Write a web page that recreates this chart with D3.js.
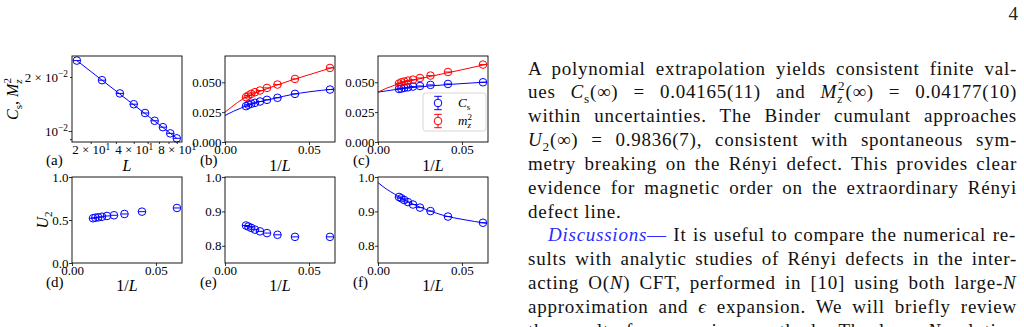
<!DOCTYPE html>
<html>
<head>
<meta charset="utf-8">
<script src="https://cdn.jsdelivr.net/npm/d3@7"></script>
<style>
  body { margin: 0; background: #fff; }
  svg { display: block; }
</style>
</head>
<body>
<div id="canvas"></div>
<script>
// system sizes, the 1/L axis is derived from them
const sizes = [16, 24, 32, 40, 48, 56, 64, 72, 80];
const invL = sizes.map((d) => 1 / d);

// (a) C_s against L on log-log axes
const csA = [0.0247, 0.0192, 0.0162, 0.0141, 0.0126, 0.0114, 0.0105, 0.0097, 0.0091];
const fitAx = [16, 80];
const fitAy = [0.0247, 0.0091];

// (b) and (c): C_s and m_z^2 against 1/L
const csB = [0.0439, 0.0403, 0.0370, 0.0353, 0.0339, 0.0328, 0.0320, 0.0312, 0.0300];
const m2B = [0.0620, 0.0528, 0.0481, 0.0453, 0.0431, 0.0417, 0.0403, 0.0389, 0.0375];
const csC = [0.0500, 0.0486, 0.0478, 0.0469, 0.0464, 0.0458, 0.0453, 0.0447, 0.0444];
const m2C = [0.0648, 0.0586, 0.0556, 0.0536, 0.0522, 0.0514, 0.0506, 0.0500, 0.0489];

// (d)-(f): Binder cumulant U_2
const u2D = [0.640, 0.597, 0.570, 0.555, 0.547, 0.538, 0.531, 0.527, 0.520];
const u2E = [0.826, 0.826, 0.832, 0.837, 0.842, 0.847, 0.852, 0.856, 0.859];
const u2F = [0.867, 0.885, 0.901, 0.911, 0.920, 0.927, 0.933, 0.938, 0.942];

// extrapolation curves
const fitX = [0, 0.005, 0.01, 0.015, 0.02, 0.03, 0.04, 0.05, 0.065];
const fitBcs = [0.0222, 0.0257, 0.0287, 0.0313, 0.0335, 0.0367, 0.0398, 0.0420, 0.0443];
const fitBm2 = [0.0250, 0.0305, 0.0355, 0.0392, 0.0420, 0.0472, 0.0520, 0.0563, 0.0628];
const fitCcs = [0.0417, 0.0428, 0.0438, 0.0447, 0.0455, 0.0468, 0.0479, 0.0489, 0.0502];
const fitCm2 = [0.0418, 0.0450, 0.0476, 0.0497, 0.0514, 0.0546, 0.0575, 0.0605, 0.0652];
const fitFu2 = [0.9836, 0.965, 0.950, 0.935, 0.923, 0.903, 0.887, 0.877, 0.865];

// ticks
const xTicksA = [20, 30, 40, 50, 60, 70, 80];
const xLabelsA = ["2 × 10^1", "", "4 × 10^1", "", "", "", "8 × 10^1"];
const yTicksA = [0.009, 0.01, 0.02];
const yLabelsA = ["", "10^−2", "2 × 10^−2"];
const xTicksInv = [0, 0.05];
const xLabelsInv = ["0.00", "0.05"];
const yTicksTop = [0, 0.025, 0.05];
const yLabelsTop = ["0.000", "0.025", "0.050"];
const yTicksD = [0, 0.5, 1];
const yLabelsD = ["0.0", "0.5", "1.0"];
const yTicksEF = [0.8, 0.9, 1.0];
const yLabelsEF = ["0.8", "0.9", "1.0"];

// page text, line by line
const bodyLines = [
  [["A polynomial extrapolation yields consistent finite val-"]],
  [["ues "], ["C", "i"], ["s", "sub"], ["(∞) = 0.04165(11) and "], ["M", "i"], ["z", "subi"], ["2", "supb"], ["(∞) = 0.04177(10)"]],
  [["within uncertainties. The Binder cumulant approaches"]],
  [["U", "i"], ["2", "sub"], ["(∞) = 0.9836(7), consistent with spontaneous sym-"]],
  [["metry breaking on the Rényi defect. This provides clear"]],
  [["evidence for magnetic order on the extraordinary Rényi"]],
  [["defect line."]],
  [["Discussions", "link"], ["—", "blue"], [" It is useful to compare the numerical re-"]],
  [["sults with analytic studies of Rényi defects in the inter-"]],
  [["acting O("], ["N", "i"], [") CFT, performed in [10] using both large-"], ["N", "i"]],
  [["approximation and "], ["ϵ", "i"], [" expansion. We will briefly review"]],
  [["the results from previous methods. The large-"], ["N", "i"], [" solution"]],
];
const raggedLines = [6];
const indentLines = [7];

const serif = "'Liberation Serif', 'Times New Roman', serif";
const W = 110;
const H = 86;
const blue = "#0000ff";
const red = "#ff0000";

const svg = d3.select("#canvas").append("svg").attr("width", 1024).attr("height", 327);
svg.append("rect").attr("width", 1024).attr("height", 327).attr("fill", "#fff");

// writes segments with italic / sub / sup into a text element
function rich(sel, segs, size) {
  let shift = 0;
  segs.forEach(([str, kind]) => {
    const ts = sel.append("tspan").text(str);
    let target = 0;
    if (kind === "i") ts.attr("font-style", "italic");
    if (kind === "sub" || kind === "subi") {
      target = 0.25;
      ts.attr("font-size", size * 0.7);
      if (kind === "subi") ts.attr("font-style", "italic");
    }
    if (kind === "supb") {
      target = -0.42;
      ts.attr("font-size", size * 0.7).attr("dx", -size * 0.27);
    }
    if (kind === "link") ts.attr("font-style", "italic").attr("fill", "#2a2aff");
    if (kind === "blue") ts.attr("fill", "#2a2aff");
    const dy = (target - shift) * size;
    if (dy) ts.attr("dy", dy);
    shift = target;
  });
}

function supLabels(axisG) {
  axisG.selectAll(".tick text").each(function () {
    const t = d3.select(this);
    const s = t.text();
    if (s.includes("^")) {
      const [b, e] = s.split("^");
      t.text(b);
      t.append("tspan").attr("dy", "-0.45em").attr("font-size", "0.72em").text(e);
    }
  });
}

function panel(p) {
  const g = svg.append("g").attr("transform", `translate(${p.left},${p.top})`);
  const x = p.x.range([0, W]);
  const y = p.y.range([H, 0]);
  const line = d3.line().x((d) => x(d[0])).y((d) => y(d[1]));

  p.fits.forEach((f) => {
    g.append("path")
      .datum(d3.zip(f.xs, f.ys))
      .attr("d", line.curve(d3.curveMonotoneX))
      .attr("fill", "none")
      .attr("stroke", f.color)
      .attr("stroke-width", 1);
  });

  p.series.forEach((s) => {
    const m = g.append("g")
      .selectAll("g")
      .data(d3.zip(s.xs, s.ys))
      .join("g")
      .attr("transform", (d) => `translate(${x(d[0])},${y(d[1])})`);
    m.append("circle").attr("r", 3.8).attr("fill", "none").attr("stroke", s.color).attr("stroke-width", 1);
    m.append("line").attr("x1", -3.8).attr("x2", 3.8).attr("stroke", s.color).attr("stroke-width", 1);
  });

  const xa = g.append("g")
    .attr("transform", `translate(0,${H})`)
    .call(d3.axisBottom(x).tickValues(p.xt).tickFormat((d, i) => p.xl[i]).tickSize(p.xSize || 3).tickPadding(p.xPad === undefined ? 0 : p.xPad).tickSizeOuter(0));
  const ya = g.append("g")
    .call(d3.axisLeft(y).tickValues(p.yt).tickFormat((d, i) => p.yl[i]).tickSize(p.ySize || 3).tickPadding(p.yPad === undefined ? 0.5 : p.yPad).tickSizeOuter(0));
  [xa, ya].forEach((a) => {
    a.attr("font-family", serif).attr("font-size", 13);
    a.select(".domain").remove();
    a.selectAll(".tick line").attr("stroke-width", 0.8);
    a.selectAll(".tick text").attr("fill", "#000");
    supLabels(a);
  });
  if (p.yMajor !== undefined) {
    ya.selectAll(".tick").filter((d) => d === p.yMajor).select("line").attr("x2", -3.5);
  }

  g.append("rect").attr("width", W).attr("height", H)
    .attr("fill", "none").attr("stroke", "#000").attr("stroke-width", 0.9);

  // x label and panel tag
  const xl = g.append("text").attr("x", W / 2).attr("y", p.xlabY)
    .attr("text-anchor", "middle").attr("font-family", serif).attr("font-size", 16);
  rich(xl, p.xlabel, 16);
  g.append("text").attr("x", p.tagX - p.left).attr("y", p.tagY)
    .attr("font-family", serif).attr("font-size", 15).text(p.tag);
  return g;
}

const invAxis = () => d3.scaleLinear().domain([0, 0.0655]);
const oneOverL = [["1/"], ["L", "i"]];

panel({
  left: 72, top: 56, tag: "(a)", tagX: 46, tagY: 109, xlabY: 115,
  x: d3.scaleLog().domain([14.8, 87]), y: d3.scaleLog().domain([0.00868, 0.0262]),
  xt: xTicksA, xl: xLabelsA, yt: yTicksA, yl: yLabelsA,
  xSize: 2, xPad: 1, ySize: 2, yPad: 2, yMajor: 0.01,
  xlabel: [["L", "i"]],
  series: [{ xs: sizes, ys: csA, color: blue }],
  fits: [{ xs: fitAx, ys: fitAy, color: blue }],
});
panel({
  left: 225, top: 56, tag: "(b)", tagX: 200, tagY: 109, xlabY: 115,
  x: invAxis(), y: d3.scaleLinear().domain([0, 0.072]),
  xt: xTicksInv, xl: xLabelsInv, yt: yTicksTop, yl: yLabelsTop,
  xlabel: oneOverL,
  series: [{ xs: invL, ys: csB, color: blue }, { xs: invL, ys: m2B, color: red }],
  fits: [{ xs: fitX, ys: fitBcs, color: blue }, { xs: fitX, ys: fitBm2, color: red }],
});
const gC = panel({
  left: 378, top: 56, tag: "(c)", tagX: 353, tagY: 109, xlabY: 115,
  x: invAxis(), y: d3.scaleLinear().domain([0, 0.072]),
  xt: xTicksInv, xl: xLabelsInv, yt: yTicksTop, yl: yLabelsTop,
  xlabel: oneOverL,
  series: [{ xs: invL, ys: csC, color: blue }, { xs: invL, ys: m2C, color: red }],
  fits: [{ xs: fitX, ys: fitCcs, color: blue }, { xs: fitX, ys: fitCm2, color: red }],
});
panel({
  left: 72, top: 177, tag: "(d)", tagX: 46, tagY: 110, xlabY: 114,
  x: invAxis(), y: d3.scaleLinear().domain([0, 1]),
  xt: xTicksInv, xl: xLabelsInv, yt: yTicksD, yl: yLabelsD,
  xlabel: oneOverL,
  series: [{ xs: invL, ys: u2D, color: blue }],
  fits: [],
});
panel({
  left: 225, top: 177, tag: "(e)", tagX: 200, tagY: 110, xlabY: 114,
  x: invAxis(), y: d3.scaleLinear().domain([0.75, 1]),
  xt: xTicksInv, xl: xLabelsInv, yt: yTicksEF, yl: yLabelsEF,
  xlabel: oneOverL,
  series: [{ xs: invL, ys: u2E, color: blue }],
  fits: [],
});
panel({
  left: 378, top: 177, tag: "(f)", tagX: 353, tagY: 110, xlabY: 114,
  x: invAxis(), y: d3.scaleLinear().domain([0.75, 1]),
  xt: xTicksInv, xl: xLabelsInv, yt: yTicksEF, yl: yLabelsEF,
  xlabel: oneOverL,
  series: [{ xs: invL, ys: u2F, color: blue }],
  fits: [{ xs: fitX, ys: fitFu2, color: blue }],
});

// y labels
const ylA = svg.append("text").attr("transform", "translate(17.5,99) rotate(-90)")
  .attr("text-anchor", "middle").attr("font-family", serif).attr("font-size", 16);
rich(ylA, [["C", "i"], ["s", "sub"], [", "], ["M", "i"], ["z", "subi"], ["2", "supb"]], 16);
const ylD = svg.append("text").attr("transform", "translate(48,220) rotate(-90)")
  .attr("text-anchor", "middle").attr("font-family", serif).attr("font-size", 16);
rich(ylD, [["U", "i"], ["2", "sub"]], 16);

// legend of (c)
const leg = gC.append("g").attr("transform", "translate(45,37)");
leg.append("rect").attr("width", 63).attr("height", 38).attr("rx", 2.5)
  .attr("fill", "#fff").attr("fill-opacity", 0.8).attr("stroke", "#ccc").attr("stroke-width", 0.8);
[[blue, [["C", "i"], ["s", "sub"]]], [red, [["m", "i"], ["z", "subi"], ["2", "supb"]]]].forEach(([c, lab], i) => {
  const e = leg.append("g").attr("transform", `translate(15,${10 + i * 18})`);
  e.append("line").attr("y1", -6.7).attr("y2", 6.7).attr("stroke", c);
  e.append("line").attr("x1", -3.8).attr("x2", 3.8).attr("y1", -6.7).attr("y2", -6.7).attr("stroke", c);
  e.append("line").attr("x1", -3.8).attr("x2", 3.8).attr("y1", 6.7).attr("y2", 6.7).attr("stroke", c);
  e.append("circle").attr("r", 3.8).attr("fill", "#fff").attr("stroke", c);
  const t = leg.append("text").attr("x", 35).attr("y", 14 + i * 18)
    .attr("font-family", serif).attr("font-size", 13);
  rich(t, lab, 13);
});

// page number
svg.append("text").attr("x", 1018).attr("y", 20).attr("text-anchor", "end")
  .attr("font-family", serif).attr("font-size", 19).attr("fill", "#222").text("4");

// body text, justified by word spacing on top of a small letter spacing
const textLeft = 528;
const textRight = 1017;
bodyLines.forEach((segs, i) => {
  const x0 = indentLines.includes(i) ? textLeft + 20 : textLeft;
  const t = svg.append("text").attr("x", x0).attr("y", 74.5 + i * 23.85)
    .attr("font-family", serif).attr("font-size", 19).attr("fill", "#111")
    .attr("letter-spacing", 0.75);
  rich(t, segs, 19);
  if (!raggedLines.includes(i)) {
    const natural = t.node().getBBox().width;
    const spaces = segs.map((s) => s[0]).join("").split(" ").length - 1;
    if (spaces > 0) t.attr("word-spacing", (textRight - x0 - natural) / spaces);
  }
});
</script>
</body>
</html>
